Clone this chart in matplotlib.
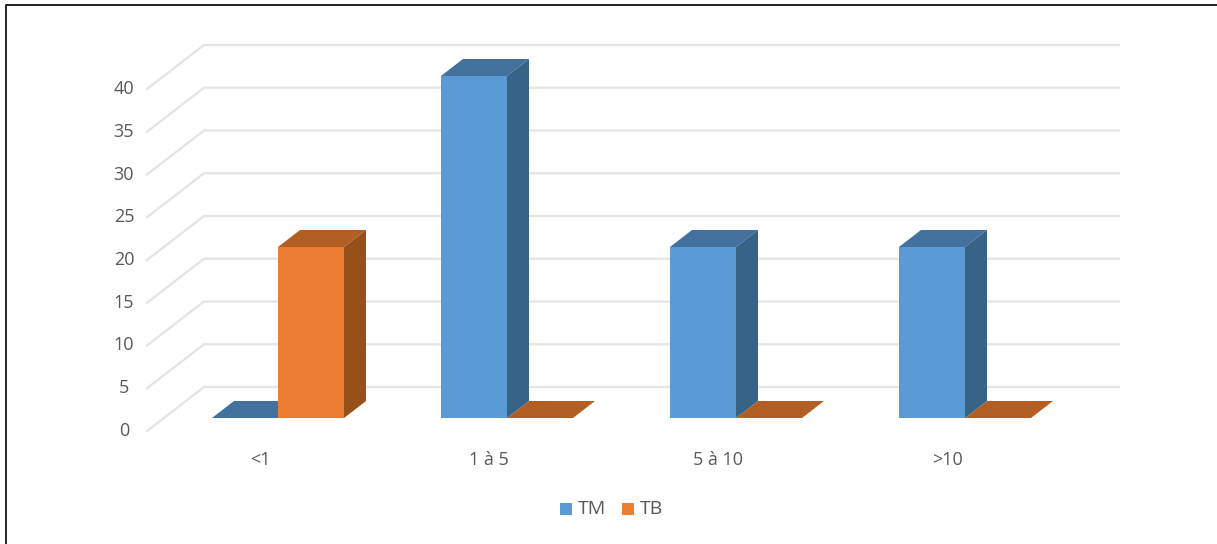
import matplotlib
matplotlib.use("Agg")
import matplotlib.pyplot as plt
from matplotlib.patches import Polygon, Rectangle

categories = ["<1", "1 à 5", "5 à 10", ">10"]
tm_values = [0, 40, 20, 20]
tb_values = [20, 0, 0, 0]
series_labels = ["TM", "TB"]
y_ticks = [0, 5, 10, 15, 20, 25, 30, 35, 40]

W, H = 1217, 544
GROUP_PX = 229.0
UNIT_PX = 8.55
X0_PX, Y0_PX = 278.0, 418.0


def dx(px):
    return px / GROUP_PX


def dy(px):
    return px / UNIT_PX


BAR_W = dx(66)
DEPTH_X, DEPTH_Y = dx(22), dy(17)
WALL_X0, WALL_X1, WALL_X2 = (147 - X0_PX) / GROUP_PX, (204 - X0_PX) / GROUP_PX, (1119 - X0_PX) / GROUP_PX
WALL_Y_FRONT, WALL_Y_BACK = dy(-13), dy(31)

COLORS = {
    "TM": ("#5B9BD5", "#41719C", "#376387"),
    "TB": ("#ED7D31", "#B35E22", "#98501B"),
}
GRID = "#E4E4E4"
TEXT = "#595959"

plt.rcParams["font.family"] = ["Open Sans", "DejaVu Sans"]
fig = plt.figure(figsize=(W / 100, H / 100), dpi=100)
ax = fig.add_axes([0, 0, 1, 1])
ax.set_xlim(-X0_PX / GROUP_PX, (W - X0_PX) / GROUP_PX)
ax.set_ylim((Y0_PX - H) / UNIT_PX, Y0_PX / UNIT_PX)
ax.axis("off")

# Back wall and floor gridlines of the oblique projection
for v in y_ticks:
    ax.plot([WALL_X0, WALL_X1, WALL_X2],
            [v + WALL_Y_FRONT, v + WALL_Y_BACK, v + WALL_Y_BACK],
            color=GRID, lw=1.6, solid_joinstyle="miter", zorder=1)
    ax.text(dx(-154), v + WALL_Y_FRONT, str(v), ha="center", va="center",
            color=TEXT, fontsize=13)


def draw_bar(x, value, series, z):
    front, top, side = COLORS[series]
    ax.add_patch(Polygon([(x, value), (x + BAR_W, value),
                          (x + BAR_W + DEPTH_X, value + DEPTH_Y),
                          (x + DEPTH_X, value + DEPTH_Y)],
                         closed=True, fc=top, ec="none", zorder=z))
    if value > 0:
        ax.add_patch(Polygon([(x + BAR_W, 0), (x + BAR_W + DEPTH_X, DEPTH_Y),
                              (x + BAR_W + DEPTH_X, value + DEPTH_Y), (x + BAR_W, value)],
                             closed=True, fc=side, ec="none", zorder=z))
        ax.add_patch(Rectangle((x, 0), BAR_W, value, fc=front, ec="none", zorder=z + 0.1))


for i, cat in enumerate(categories):
    draw_bar(i - BAR_W, tm_values[i], "TM", 2 + (0.5 if tm_values[i] else 0))
    draw_bar(i, tb_values[i], "TB", 2 + (0.5 if tb_values[i] else 0))
    ax.text(i + dx(-18), dy(-42), cat, ha="center", va="center", color=TEXT, fontsize=13)

# Legend row beneath the categories
for name, sw_px, tx_px in zip(series_labels, [560, 622], [578, 640]):
    ax.add_patch(Rectangle(((sw_px - X0_PX) / GROUP_PX, (Y0_PX - 515) / UNIT_PX),
                           dx(12), dy(12), fc=COLORS[name][0], ec="none", zorder=3))
    ax.text((tx_px - X0_PX) / GROUP_PX, (Y0_PX - 509) / UNIT_PX, name,
            ha="left", va="center", color=TEXT, fontsize=14)

# Chart frame
fig.add_artist(plt.Line2D([5.5 / W, 5.5 / W, 1], [0, 1 - 4.5 / H, 1 - 4.5 / H],
                          color="#222222", lw=1.4, transform=fig.transFigure))

fig.savefig("out.png", dpi=100)
